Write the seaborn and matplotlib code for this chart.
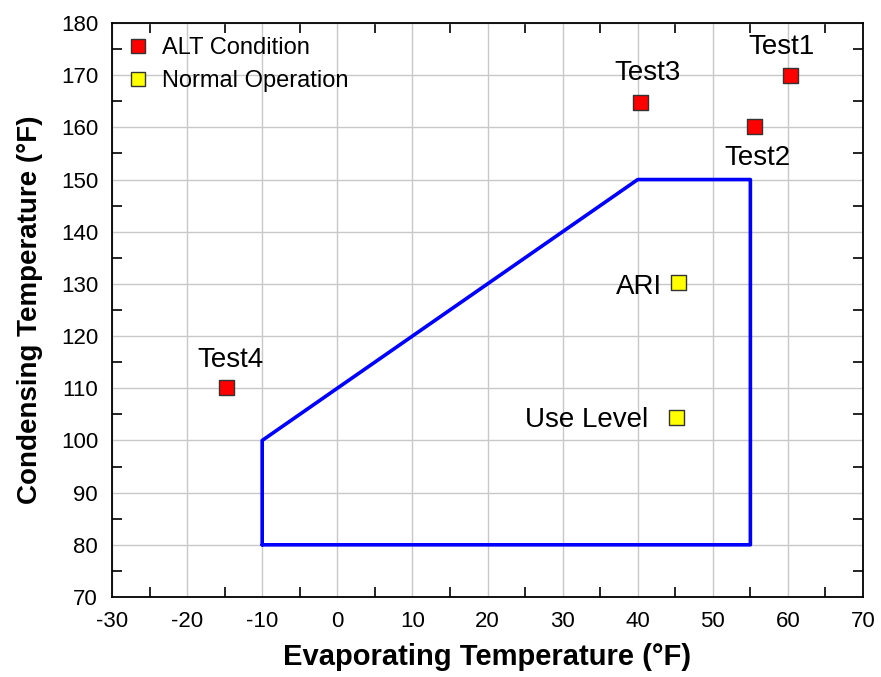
import numpy as np
import pandas as pd
import matplotlib
matplotlib.use("Agg")
from matplotlib import pyplot as plt
from matplotlib.ticker import MultipleLocator
import seaborn as sns

# Test points
point_names = ["Test1", "Test2", "Test3", "Test4", "ARI", "Use Level"]
evap_temp = [60.4, 55.5, 40.4, -14.7, 45.4, 45.2]
cond_temp = [169.9, 160.2, 164.7, 110.1, 130.2, 104.4]
condition = ["ALT Condition"] * 4 + ["Normal Operation"] * 2

# Operating envelope
envelope_evap = [-10, -10, 40, 55, 55, -10]
envelope_cond = [80, 100, 150, 150, 80, 80]

sns.set_style("white")
plt.rcParams["font.family"] = ["Liberation Sans", "DejaVu Sans"]
plt.rcParams["axes.unicode_minus"] = False
plt.rcParams["text.color"] = "black"
plt.rcParams["axes.labelcolor"] = "black"
plt.rcParams["xtick.color"] = "black"
plt.rcParams["ytick.color"] = "black"

df = pd.DataFrame(
    {"name": point_names, "evap": evap_temp, "cond": cond_temp, "condition": condition}
)
env = pd.DataFrame({"evap": envelope_evap, "cond": envelope_cond})

fig, ax = plt.subplots(figsize=(8.81, 6.77), dpi=100)
fig.subplots_adjust(left=0.1271, right=0.9796, top=0.966, bottom=0.1182)

sns.lineplot(
    data=env, x="evap", y="cond", sort=False, color="#0000ff", lw=2.6,
    estimator=None, ax=ax, zorder=3,
)
sns.scatterplot(
    data=df, x="evap", y="cond", hue="condition",
    palette={"ALT Condition": "#ff0000", "Normal Operation": "#ffff00"},
    marker="s", s=118, edgecolor="#333333", linewidth=1, ax=ax, zorder=4,
)

# Point labels: offset from the marker (data units) and alignment
label_pos = {
    "Test1": (-1.2, 4.2, "center"),
    "Test2": (0.4, -7.4, "center"),
    "Test3": (0.9, 4.4, "center"),
    "Test4": (0.5, 4.0, "center"),
    "ARI": (-2.1, -2.1, "right"),
    "Use Level": (-3.8, -1.8, "right"),
}
for _, r in df.iterrows():
    dx, dy, ha = label_pos[r["name"]]
    ax.text(r["evap"] + dx, r["cond"] + dy, r["name"], fontsize=20,
            ha=ha, va="baseline", zorder=5)

ax.set_xlim(-30, 70)
ax.set_ylim(70, 180)
ax.xaxis.set_major_locator(MultipleLocator(10))
ax.yaxis.set_major_locator(MultipleLocator(10))
ax.xaxis.set_minor_locator(MultipleLocator(5))
ax.yaxis.set_minor_locator(MultipleLocator(5))
ax.grid(True, which="major", color="#c8c8c8", lw=1, zorder=0)
ax.tick_params(which="major", length=0, labelsize=16, pad=10)
ax.tick_params(which="minor", direction="in", length=7, width=1.2,
               top=True, right=True, bottom=True, left=True, color="black")
for s in ax.spines.values():
    s.set_color("black")
    s.set_linewidth(1.3)

ax.set_xlabel("Evaporating Temperature (°F)", fontsize=21, weight="bold", labelpad=8)
ax.set_ylabel("Condensing Temperature (°F)", fontsize=20, weight="bold", labelpad=13)

leg = ax.legend(loc="upper left", frameon=False, fontsize=17, handletextpad=0.5,
                borderaxespad=0.2, labelspacing=0.45, handlelength=1.0,
                bbox_to_anchor=(0.0, 1.0))
for h in leg.legend_handles:
    h.set_markersize(10.5)
    h.set_markeredgecolor("#333333")
    h.set_markeredgewidth(1)

plt.savefig("out.png", dpi=100)
